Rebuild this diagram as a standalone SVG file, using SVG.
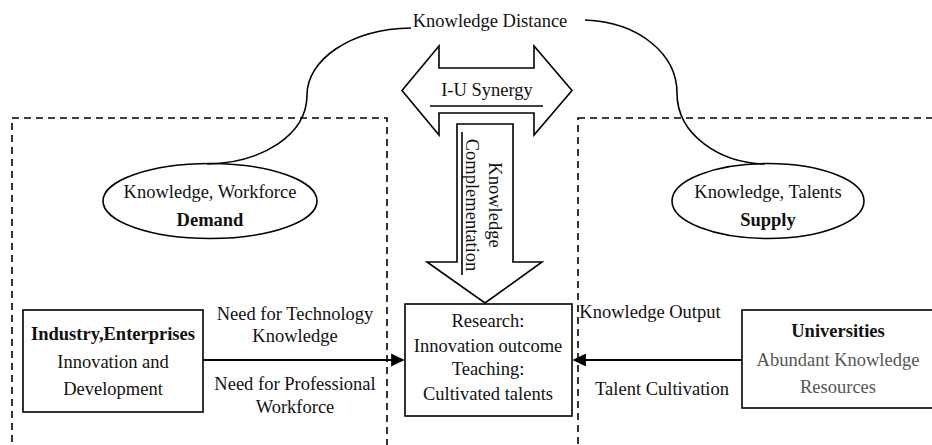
<svg xmlns="http://www.w3.org/2000/svg" width="932" height="445" viewBox="0 0 932 445">
<defs>
<style>
text{font-family:"Liberation Serif","Times New Roman",serif;font-size:18.5px;fill:#111;text-anchor:middle}
.b{font-weight:bold}
.g{fill:#555}
.st{fill:#fff;stroke:#000;stroke-width:1.6}
.ln{fill:none;stroke:#000;stroke-width:1.6}
.dash{fill:none;stroke:#000;stroke-width:1.6;stroke-dasharray:7 5}
.arr{fill:none;stroke:#000;stroke-width:2.2}
</style>
<marker id="ah" viewBox="0 0 10 10" refX="9" refY="5" markerWidth="6" markerHeight="6" orient="auto">
<path d="M0,0 L10,5 L0,10 z" fill="#000"/>
</marker>
</defs>
<rect width="932" height="445" fill="#fff"/>

<g id="regions">
<rect class="dash" x="12" y="118" width="375" height="345"/>
<rect class="dash" x="578" y="118" width="370" height="345"/>
</g>

<g id="knowledge-distance">
<text x="490" y="27">Knowledge Distance</text>
</g>

<g id="synergy">
<path class="st" d="M402,90.5 L439,46 L439,68 L534,68 L534,46 L572,90.5 L534,135 L534,113 L439,113 L439,135 Z"/>
<text x="487" y="96">I-U Synergy</text>
<line class="ln" x1="430" y1="106" x2="543" y2="106"/>
</g>

<g id="complementation">
<path class="st" d="M457,124 L513,124 L513,262 L542,262 L485,303 L427,262 L457,262 Z"/>
<text transform="translate(489,205) rotate(90)">Knowledge</text>
<text transform="translate(466,205) rotate(90)">Complementation</text>
<line class="ln" x1="462" y1="132" x2="462" y2="275"/>
</g>

<g id="demand">
<ellipse class="st" cx="210" cy="201" rx="107" ry="37.5"/>
<text x="210" y="198">Knowledge, Workforce</text>
<text class="b" x="210" y="226">Demand</text>
</g>

<g id="supply">
<ellipse class="st" cx="768" cy="201" rx="96" ry="37.5"/>
<text x="768" y="198">Knowledge, Talents</text>
<text class="b" x="768" y="226">Supply</text>
</g>

<g id="industry">
<rect class="st" x="23" y="310" width="180" height="102"/>
<text class="b" x="113" y="340">Industry,Enterprises</text>
<text x="113" y="368">Innovation and</text>
<text x="113" y="395">Development</text>
</g>

<g id="center">
<rect class="st" x="405" y="304" width="167" height="112"/>
<text x="488" y="327">Research:</text>
<text x="488" y="352">Innovation outcome</text>
<text x="488" y="375">Teaching:</text>
<text x="488" y="400">Cultivated talents</text>
</g>

<g id="universities">
<rect class="st" x="742" y="310" width="195" height="98"/>
<text class="b" x="838" y="337">Universities</text>
<text class="g" x="838" y="366">Abundant Knowledge</text>
<text class="g" x="838" y="393">Resources</text>
</g>

<g id="connectors">
<path class="ln" d="M411,28 C350,29 307,60 307,95 C307,135 262,163 207,164"/>
<path class="ln" d="M585,20 C640,22 677,55 677,93 C677,135 720,163 765,164"/>
<line class="arr" x1="203" y1="360" x2="403" y2="360" marker-end="url(#ah)"/>
<line class="arr" x1="742" y1="360" x2="574" y2="360" marker-end="url(#ah)"/>
</g>

<g id="labels">
<text x="295" y="320">Need for Technology</text>
<text x="295" y="342">Knowledge</text>
<text x="295" y="390">Need for Professional</text>
<text x="295" y="413">Workforce</text>
<text x="650" y="318">Knowledge Output</text>
<text x="662" y="395">Talent Cultivation</text>
</g>
</svg>
